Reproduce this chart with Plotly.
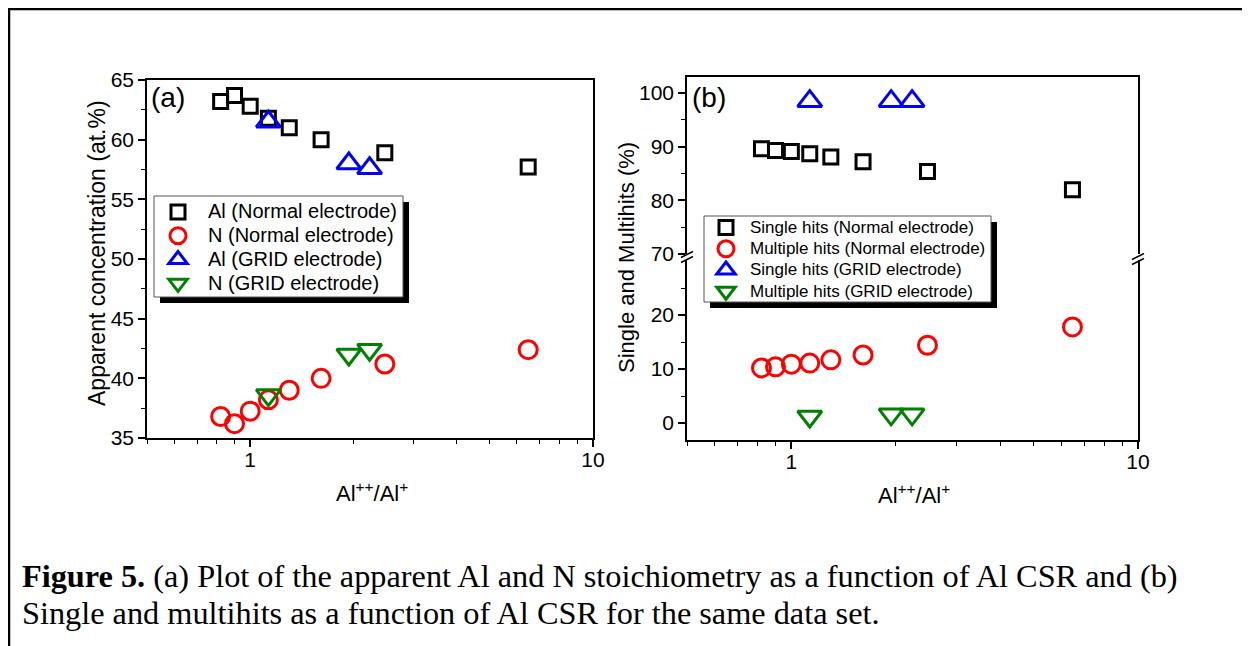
import plotly.graph_objects as go
import math

# ---------------- data ----------------
csr_normal = [0.82, 0.90, 1.00, 1.13, 1.30, 1.61, 2.47, 6.47]
csr_grid = [1.13, 1.94, 2.23]

al_normal = [63.2, 63.7, 62.8, 61.8, 61.0, 60.0, 58.9, 57.7]
n_normal = [36.8, 36.2, 37.25, 38.2, 39.0, 40.0, 41.2, 42.4]
al_grid = [61.5, 58.0, 57.6]
n_grid = [38.6, 42.0, 42.4]

single_normal = [89.6, 89.3, 89.1, 88.7, 88.1, 87.2, 85.4, 82.0]
multi_normal = [10.2, 10.4, 10.9, 11.1, 11.7, 12.6, 14.4, 17.8]
single_grid = [98.5, 98.5, 98.5]
multi_grid = [1.2, 1.6, 1.6]

x_major = [1, 10]
x_minor = [0.5, 0.6, 0.7, 0.8, 0.9, 2, 3, 4, 5, 6, 7, 8, 9]

# page body has an 8px margin: figure fills the rest of the 1250x646 window
OFF = 8
W, H = 1250 - OFF, 646 - OFF
def px(x):
    return (x - OFF) / W
def py(y):
    return 1 - (y - OFF) / H

SANS = "Liberation Sans, Arial, sans-serif"
SERIF = "Liberation Serif, Times New Roman, serif"

BLACK = "#000000"
RED = "#FF0000"
BLUE = "#0000FF"
GREEN = "#008000"

def mk(symbol, color, size):
    return dict(symbol=symbol, size=size, color=color, line=dict(width=3, color=color))

def lg(name, size):
    return '<span style="font-size:%dpx">%s</span>' % (size, name)

fig = go.Figure()

# panel (a)
fig.add_trace(go.Scatter(x=csr_normal, y=al_normal, mode="markers", name=lg("Al (Normal electrode)", 20),
                         marker=mk("square-open", BLACK, 14), xaxis="x", yaxis="y", legend="legend"))
fig.add_trace(go.Scatter(x=csr_normal, y=n_normal, mode="markers", name=lg("N (Normal electrode)", 20),
                         marker=mk("circle-open", RED, 18), xaxis="x", yaxis="y", legend="legend"))
fig.add_trace(go.Scatter(x=csr_grid, y=al_grid, mode="markers", name=lg("Al (GRID electrode)", 20),
                         marker=mk("triangle-up-open", BLUE, 21), xaxis="x", yaxis="y", legend="legend"))
fig.add_trace(go.Scatter(x=csr_grid, y=n_grid, mode="markers", name=lg("N (GRID electrode)", 20),
                         marker=mk("triangle-down-open", GREEN, 21), xaxis="x", yaxis="y", legend="legend"))

# panel (b)
fig.add_trace(go.Scatter(x=csr_normal, y=single_normal, mode="markers",
                         name=lg("Single hits (Normal electrode)", 17),
                         marker=mk("square-open", BLACK, 14), xaxis="x3", yaxis="y3", legend="legend2"))
fig.add_trace(go.Scatter(x=csr_normal, y=multi_normal, mode="markers",
                         name=lg("Multiple hits (Normal electrode)", 17),
                         marker=mk("circle-open", RED, 18), xaxis="x2", yaxis="y2", legend="legend2"))
fig.add_trace(go.Scatter(x=csr_grid, y=single_grid, mode="markers",
                         name=lg("Single hits (GRID electrode)", 17),
                         marker=mk("triangle-up-open", BLUE, 21), xaxis="x3", yaxis="y3", legend="legend2"))
fig.add_trace(go.Scatter(x=csr_grid, y=multi_grid, mode="markers",
                         name=lg("Multiple hits (GRID electrode)", 17),
                         marker=mk("triangle-down-open", GREEN, 21), xaxis="x2", yaxis="y2", legend="legend2"))

xr = [math.log10(0.5), 1]
tickfont = dict(family=SANS, size=21, color=BLACK)

def xax(domain, anchor, **kw):
    d = dict(type="log", range=xr, domain=domain, anchor=anchor, showline=True, linecolor=BLACK,
             linewidth=1.5, ticks="outside", ticklen=7, tickwidth=1.5, tickcolor=BLACK,
             tickvals=x_major, ticktext=[str(v) for v in x_major], tickfont=tickfont,
             ticklabelstandoff=-5,
             minor=dict(tickvals=x_minor, ticks="outside", ticklen=4, tickwidth=1.2, tickcolor=BLACK),
             showgrid=False, zeroline=False)
    d.update(kw)
    return d

def yax(domain, anchor, rng, tv, mv, **kw):
    d = dict(range=rng, domain=domain, anchor=anchor, showline=True, linecolor=BLACK, linewidth=1.5,
             mirror=True, ticks="outside", ticklen=7, tickwidth=1.5, tickcolor=BLACK,
             tickvals=tv, ticktext=[str(v) for v in tv], tickfont=tickfont,
             minor=dict(tickvals=mv, ticks="outside", ticklen=4, tickwidth=1.2, tickcolor=BLACK),
             showgrid=False, zeroline=False)
    d.update(kw)
    return d

fig.update_layout(
    width=W, height=H,
    margin=dict(l=0, r=0, t=0, b=0, autoexpand=False),
    paper_bgcolor="white", plot_bgcolor="white",
    font=dict(family=SANS, color=BLACK),
    xaxis=xax([px(147), px(593)], "y", mirror=True),
    yaxis=yax([py(438), py(80)], "x", [35, 65], [35, 40, 45, 50, 55, 60, 65],
              [37.5, 42.5, 47.5, 52.5, 57.5, 62.5]),
    xaxis2=xax([px(687), px(1138)], "y2", mirror=False),
    yaxis2=yax([py(440), py(260)], "x2", [-3.15, 30.2], [0, 10, 20], [5, 15, 25]),
    xaxis3=xax([px(687), px(1138)], "y3", side="top", ticks="", showticklabels=False,
               minor=dict(ticks="")),
    yaxis3=yax([py(254), py(77)], "x3", [70, 103], [70, 80, 90, 100], [75, 85, 95]),
    legend=dict(x=px(148), y=py(195), xanchor="left", yanchor="top", bgcolor="rgba(0,0,0,0)",
                borderwidth=0, font=dict(family=SANS, size=16, color=BLACK), itemwidth=50,
                tracegroupgap=0),
    legend2=dict(x=px(702), y=py(212), xanchor="left", yanchor="top", bgcolor="rgba(0,0,0,0)",
                 borderwidth=0, font=dict(family=SANS, size=14, color=BLACK), itemwidth=38,
                 tracegroupgap=0),
    showlegend=True,
)

shapes = []
# page frame (top and left)
shapes.append(dict(type="line", xref="paper", yref="paper", x0=px(9), y0=py(646), x1=px(9), y1=py(9),
                   line=dict(color=BLACK, width=2.5)))
shapes.append(dict(type="line", xref="paper", yref="paper", x0=px(8), y0=py(9), x1=px(1250), y1=py(9),
                   line=dict(color=BLACK, width=2.5)))
# legend boxes with shadow
for (l, t, r, b) in [(154, 196, 403, 297), (704, 216, 991, 302)]:
    shapes.append(dict(type="rect", xref="paper", yref="paper", x0=px(l + 6), y0=py(b + 6),
                       x1=px(r + 6), y1=py(t + 6), fillcolor=BLACK, line=dict(width=0)))
    shapes.append(dict(type="rect", xref="paper", yref="paper", x0=px(l), y0=py(b), x1=px(r), y1=py(t),
                       fillcolor="white", line=dict(color="#555555", width=1)))
# axis break marks
for (cx, cy) in [(687, 257), (1138, 259)]:
    for dy in (-2.5, 2.5):
        shapes.append(dict(type="line", xref="paper", yref="paper",
                           x0=px(cx - 6), y0=py(cy + dy + 3), x1=px(cx + 6), y1=py(cy + dy - 3),
                           line=dict(color=BLACK, width=1.5)))
fig.update_layout(shapes=shapes)

ann = []
ann.append(dict(text="(a)", x=px(149), y=py(98), xref="paper", yref="paper", xanchor="left",
                yanchor="middle", showarrow=False, font=dict(family=SANS, size=28, color=BLACK)))
ann.append(dict(text="(b)", x=px(690), y=py(98), xref="paper", yref="paper", xanchor="left",
                yanchor="middle", showarrow=False, font=dict(family=SANS, size=28, color=BLACK)))
ann.append(dict(text="Apparent concentration (at.%)", x=px(97), y=py(253), xref="paper", yref="paper",
                textangle=-90, showarrow=False, xanchor="center", yanchor="middle",
                font=dict(family=SANS, size=23, color=BLACK)))
ann.append(dict(text="Single and Multihits (%)", x=px(627), y=py(258), xref="paper", yref="paper",
                textangle=-90, showarrow=False, xanchor="center", yanchor="middle",
                font=dict(family=SANS, size=22, color=BLACK)))
ann.append(dict(text="Al<sup>++</sup>/Al<sup>+</sup>", x=px(372), y=py(492), xref="paper", yref="paper",
                showarrow=False, xanchor="center", yanchor="middle",
                font=dict(family=SANS, size=22, color=BLACK)))
ann.append(dict(text="Al<sup>++</sup>/Al<sup>+</sup>", x=px(914), y=py(494), xref="paper", yref="paper",
                showarrow=False, xanchor="center", yanchor="middle",
                font=dict(family=SANS, size=22, color=BLACK)))
ann.append(dict(text="<b>Figure 5.</b> (a) Plot of the apparent Al and N stoichiometry as a function of Al CSR and (b)",
                x=px(20), y=py(576), xref="paper", yref="paper", showarrow=False, xanchor="left",
                yanchor="middle", font=dict(family=SERIF, size=32.3, color=BLACK)))
ann.append(dict(text="Single and multihits as a function of Al CSR for the same data set.",
                x=px(20), y=py(613), xref="paper", yref="paper", showarrow=False, xanchor="left",
                yanchor="middle", font=dict(family=SERIF, size=32.3, color=BLACK)))
fig.update_layout(annotations=ann)

fig.write_html("out.html")
